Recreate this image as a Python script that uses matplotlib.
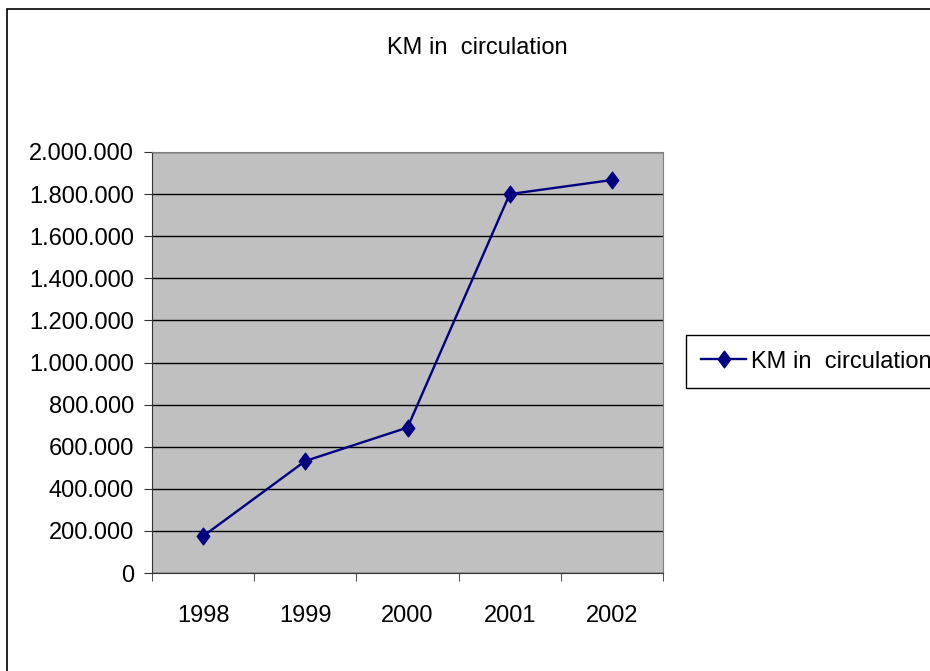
import matplotlib
matplotlib.use("Agg")
import matplotlib.pyplot as plt
from matplotlib.patches import Rectangle
from matplotlib.path import Path
from matplotlib.ticker import FuncFormatter, FixedLocator

# data
years = ['1998', '1999', '2000', '2001', '2002']
km_in_circulation = [175000, 532000, 691000, 1800000, 1867000]
series_name = 'KM in  circulation'

plt.rcParams['font.family'] = ['Liberation Sans', 'DejaVu Sans']
fs = 17

fig = plt.figure(figsize=(9.3, 6.71), dpi=100)

# outer chart border (runs off right/bottom like the reference)
fig.patches.append(Rectangle((7 / 930, -0.1), 1.2, 1 - 9 / 671 + 0.1,
                             transform=fig.transFigure, fill=False,
                             edgecolor='black', linewidth=1.2))

ax = fig.add_axes([152 / 930, 1 - 573 / 671, 511 / 930, 421 / 671])
ax.set_facecolor('#c0c0c0')

# Excel-style diamond, a bit taller than wide
diamond = Path([(0, 1), (0.75, 0), (0, -1), (-0.75, 0), (0, 1)],
               [Path.MOVETO, Path.LINETO, Path.LINETO, Path.LINETO, Path.CLOSEPOLY])

x = list(range(len(years)))
ax.plot(x, km_in_circulation, color='#000080', linewidth=1.7, marker=diamond,
        markersize=12, label=series_name, zorder=3)

ax.set_xlim(-0.5, len(years) - 0.5)
ax.set_ylim(0, 2000000)
ax.set_yticks(range(0, 2000001, 200000))
ax.yaxis.set_major_formatter(FuncFormatter(lambda v, p: f"{v:,.0f}".replace(",", ".")))
ax.yaxis.grid(True, color='black', linewidth=1)
ax.set_axisbelow(True)

ax.set_xticks(x)
ax.set_xticklabels(years)
ax.xaxis.set_minor_locator(FixedLocator([i - 0.5 for i in range(len(years) + 1)]))
ax.tick_params(axis='x', which='major', length=0, pad=23, labelsize=fs)
ax.tick_params(axis='x', which='minor', length=6, direction='out', color='#333333')
ax.tick_params(axis='y', length=6, direction='out', pad=7, labelsize=fs, color='#333333')

for side in ['top', 'right']:
    ax.spines[side].set_color('#808080')
for side in ['left', 'bottom']:
    ax.spines[side].set_color('#333333')

fig.text(477 / 930, 1 - 48 / 671, 'KM in  circulation', ha='center', va='center', fontsize=fs)

leg = fig.legend(loc='lower left', bbox_to_anchor=(686 / 930, 1 - 388 / 671),
                 borderaxespad=0, fancybox=False, edgecolor='black', fontsize=fs,
                 handlelength=1.9, handletextpad=0.2, borderpad=0.65, framealpha=1)
leg.get_frame().set_linewidth(1)

fig.savefig('out.png', dpi=100)
